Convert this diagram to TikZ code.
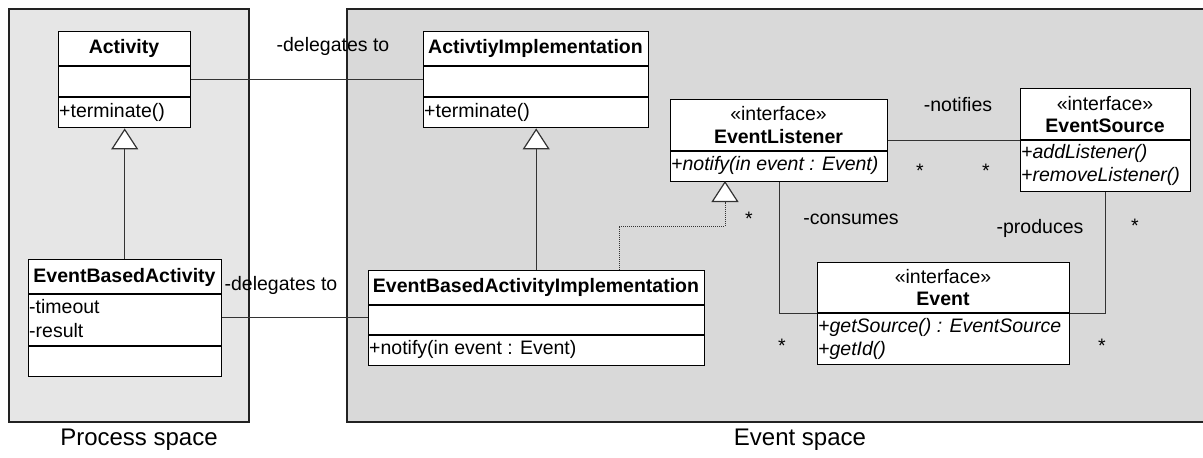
\documentclass[tikz,border=0pt]{standalone}
\usepackage{fontspec}
\setmainfont{Liberation Sans}
\usetikzlibrary{arrows.meta,calc}
\definecolor{procfill}{HTML}{E6E6E6}
\definecolor{evfill}{HTML}{D9D9D9}
\definecolor{frameline}{HTML}{222222}
\definecolor{linkgray}{HTML}{333333}
\begin{document}
\begin{tikzpicture}[x=1pt,y=-1pt,
  classbox/.style={draw=black,line width=1.4pt,fill=white,inner sep=0pt,anchor=north west},
  divider/.style={draw=black,line width=1.4pt},
  cname/.style={inner sep=0pt,font=\fontsize{19.5}{22}\selectfont\bfseries},
  stereo/.style={inner sep=0pt,font=\fontsize{19.5}{22}\selectfont},
  member/.style={inner sep=0pt,anchor=west,font=\fontsize{19.5}{22}\selectfont},
  amember/.style={member,font=\fontsize{19.5}{22}\selectfont\itshape},
  rolelabel/.style={inner sep=0pt,font=\fontsize{19.5}{22}\selectfont},
  mult/.style={inner sep=0pt,font=\fontsize{19.5}{22}\selectfont},
  spacelabel/.style={inner sep=0pt,font=\fontsize{24}{28}\selectfont},
  assoc/.style={draw=linkgray,line width=1pt},
  gen/.style={draw=linkgray,line width=1pt,-{Triangle[open,fill=white,width=27pt,length=21pt,line width=1.2pt]}},
  realize/.style={gen,densely dotted},
]
\useasboundingbox (0,0) rectangle (1203,458);

% ---------- space frames ----------
\fill[procfill] (9,9) rectangle (249,422);
\draw[frameline,line width=1.4pt] (9,9) rectangle (249,422);
\fill[evfill] (347,9) rectangle (1203,422);
\draw[frameline,line width=1.4pt] (1203,9) -- (347,9) -- (347,422) -- (1203,422);
\node[spacelabel] (procspace) at (139,440) {Process space};
\node[spacelabel] (evspace) at (800,440) {Event space};

% ---------- Activity ----------
\node[classbox,minimum width=132pt,minimum height=96pt] (activity) at (58,31) {};
\draw[divider] (58,66) -- (190,66);
\draw[divider] (58,97) -- (190,97);
\node[cname] (activity-name) at (124,48) {Activity};
\node[member] (activity-op) at (59,112) {+terminate()};

% ---------- ActivtiyImplementation ----------
\node[classbox,minimum width=225pt,minimum height=96pt] (actimpl) at (423,31) {};
\draw[divider] (423,66) -- (648,66);
\draw[divider] (423,97) -- (648,97);
\node[cname] (actimpl-name) at (535.5,48) {ActivtiyImplementation};
\node[member] (actimpl-op) at (424,112) {+terminate()};

% ---------- EventBasedActivity ----------
\node[classbox,minimum width=193pt,minimum height=117pt] (eba) at (28,259) {};
\draw[divider] (28,294) -- (221,294);
\draw[divider] (28,346) -- (221,346);
\node[cname] (eba-name) at (124.5,277) {EventBasedActivity};
\node[member] (eba-a1) at (29,307) {-timeout};
\node[member] (eba-a2) at (29,331) {-result};

% ---------- EventBasedActivityImplementation ----------
\node[classbox,minimum width=336pt,minimum height=95pt] (ebai) at (368,270) {};
\draw[divider] (368,305) -- (704,305);
\draw[divider] (368,335) -- (704,335);
\node[cname] (ebai-name) at (536,287) {EventBasedActivityImplementation};
\node[member] (ebai-op) at (369,349) {+notify(in event : Event)};

% ---------- EventListener ----------
\node[classbox,minimum width=217pt,minimum height=82pt] (listener) at (670,99) {};
\draw[divider] (670,151) -- (887,151);
\node[stereo] (listener-st) at (778.5,114) {«interface»};
\node[cname] (listener-name) at (778.5,137) {EventListener};
\node[amember] (listener-op) at (671,165) {+notify(in event : Event)};

% ---------- EventSource ----------
\node[classbox,minimum width=170pt,minimum height=103pt] (source) at (1020,88) {};
\draw[divider] (1020,140) -- (1190,140);
\node[stereo] (source-st) at (1105,104) {«interface»};
\node[cname] (source-name) at (1105,126) {EventSource};
\node[amember] (source-op1) at (1021,153) {+addListener()};
\node[amember] (source-op2) at (1021,176) {+removeListener()};

% ---------- Event ----------
\node[classbox,minimum width=252pt,minimum height=102pt] (event) at (817,262) {};
\draw[divider] (817,313) -- (1069,313);
\node[stereo] (event-st) at (943,277) {«interface»};
\node[cname] (event-name) at (943,299) {Event};
\node[amember] (event-op1) at (818,327) {+getSource() : EventSource};
\node[amember] (event-op2) at (818,350) {+getId()};

% ---------- delegation associations ----------
\draw[assoc] (activity.east |- 0,79) -- (actimpl.west |- 0,79);
\node[rolelabel] (deleg1) at (333,46) {-delegates to};
\draw[assoc] (eba.east |- 0,317) -- (ebai.west |- 0,317);
\node[rolelabel] (deleg2) at (281,285) {-delegates to};

% ---------- generalizations ----------
\draw[gen] (eba.north -| activity.south) -- (activity.south);
\draw[gen] (ebai.north -| actimpl.south) -- (actimpl.south);

% ---------- realization of EventListener ----------
\coordinate (realstart) at (619,270);
\coordinate (realtip) at (725,181);
\draw[realize] (realstart) -- (619,226) -| (realtip);

% ---------- event associations ----------
\draw[assoc] (listener.east |- 0,140) -- (source.west |- 0,140);
\node[rolelabel] (notifies) at (958,105) {-notifies};
\node[mult] (m-notify1) at (920,171) {*};
\node[mult] (m-notify2) at (986,171) {*};

\draw[assoc] (listener.south -| 779,0) -- (779,313) -- (event.west |- 0,313);
\node[rolelabel] (consumes) at (851,219) {-consumes};
\node[mult] (m-cons1) at (749,219) {*};
\node[mult] (m-cons2) at (782,346) {*};

\draw[assoc] (source.south -| 1105,0) -- (1105,313) -- (event.east |- 0,313);
\node[rolelabel] (produces) at (1040,228) {-produces};
\node[mult] (m-prod1) at (1135,226) {*};
\node[mult] (m-prod2) at (1102,346) {*};
\end{tikzpicture}
\end{document}
